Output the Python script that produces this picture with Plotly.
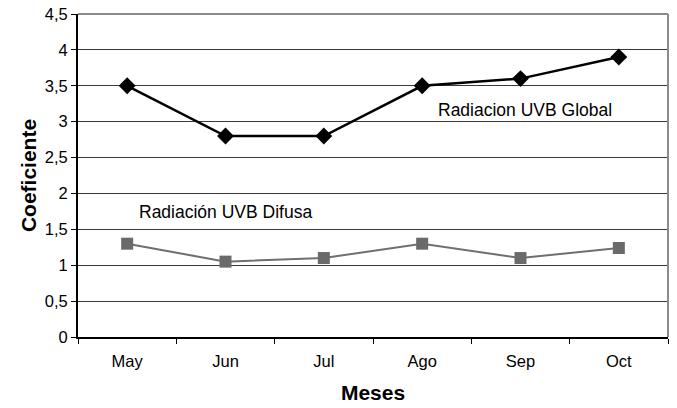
import plotly.graph_objects as go

meses = ["May", "Jun", "Jul", "Ago", "Sep", "Oct"]
global_uvb = [3.5, 2.8, 2.8, 3.5, 3.6, 3.9]
difusa_uvb = [1.3, 1.05, 1.1, 1.3, 1.1, 1.24]
y_ticks = [0, 0.5, 1, 1.5, 2, 2.5, 3, 3.5, 4, 4.5]
y_tick_labels = ["0", "0,5", "1", "1,5", "2", "2,5", "3", "3,5", "4", "4,5"]

font = "Liberation Sans"

fig = go.Figure()
fig.add_trace(go.Scatter(
    x=meses, y=global_uvb, mode="lines+markers",
    line=dict(color="black", width=2.5),
    marker=dict(symbol="diamond", size=13, color="black"),
    name="Radiacion UVB Global", showlegend=False,
))
fig.add_trace(go.Scatter(
    x=meses, y=difusa_uvb, mode="lines+markers",
    line=dict(color="#6f6f6f", width=2),
    marker=dict(symbol="square", size=12, color="#6a6a6a"),
    name="Radiación UVB Difusa", showlegend=False,
))

fig.add_annotation(x=4.05, y=3.16, xref="x", yref="y", text="Radiacion UVB Global",
                   showarrow=False, font=dict(family=font, size=17.5, color="black"))
fig.add_annotation(x=1.0, y=1.74, xref="x", yref="y", text="Radiación UVB Difusa",
                   showarrow=False, font=dict(family=font, size=17.5, color="black"))

# right and top border in gray
fig.add_shape(type="line", xref="paper", yref="paper", x0=1, x1=1, y0=0, y1=1,
              line=dict(color="#8a8a8a", width=2))
fig.add_shape(type="line", xref="paper", yref="paper", x0=0, x1=1, y0=1, y1=1,
              line=dict(color="#8a8a8a", width=2))

fig.update_layout(
    width=677, height=408,
    margin=dict(l=78, r=9, t=14, b=71, autoexpand=False),
    paper_bgcolor="white", plot_bgcolor="white",
    font=dict(family=font, size=16.5, color="black"),
    xaxis=dict(
        type="category", range=[-0.5, 5.5], automargin=False,
        showline=True, linecolor="black", linewidth=2,
        ticks="outside", tickson="boundaries", ticklen=5, tickcolor="black",
        showgrid=False, ticklabelstandoff=8,
        title=dict(text="<b>Meses</b>", font=dict(size=21, family=font), standoff=17),
        tickfont=dict(size=16.5),
    ),
    yaxis=dict(
        range=[0, 4.5], tickmode="array", tickvals=y_ticks, ticktext=y_tick_labels,
        automargin=False,
        showline=True, linecolor="black", linewidth=2,
        ticks="outside", ticklen=5, tickcolor="black",
        showgrid=True, gridcolor="#3a3a3a", gridwidth=1.3,
        zeroline=False,
        title=dict(text="<b>Coeficiente</b>", font=dict(size=21, family=font), standoff=2),
        tickfont=dict(size=16.5),
    ),
)

fig.write_html("out.html", config={"displayModeBar": False},
               post_script="document.body.style.margin='0px';")
